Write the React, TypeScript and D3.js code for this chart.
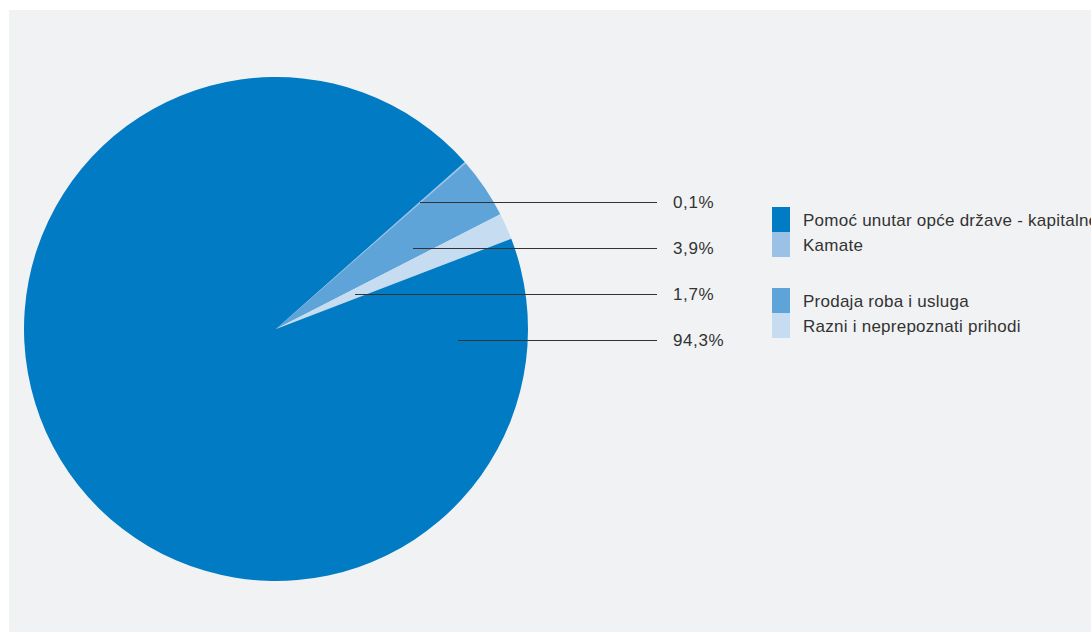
import React from "react";
import * as d3 from "d3";

const categories = [
  "Pomoć unutar opće države - kapitalne",
  "Kamate",
  "Prodaja roba i usluga",
  "Razni i neprepoznati prihodi",
];
const values = [94.3, 0.1, 3.9, 1.7];
const colors = ["#007bc4", "#9bc1e6", "#5fa4d9", "#c6dcf0"];
// order of slices clockwise and of the percentage labels
const pieOrder = [1, 2, 3, 0];
const valueLabels = ["94,3%", "0,1%", "3,9%", "1,7%"];

const W = 1091;
const H = 632;
const cx = 276;
const cy = 329;
const R = 252;
const startDeg = 48.5;
const labelTop = 202;
const labelStep = 46;
const leaderStarts = [420, 413, 355, 458];
const leaderEnd = 657;
const labelX = 673;
const legendX = 772;

export default function App() {
  const pie = d3
    .pie<number>()
    .sort(null)
    .value((i) => values[i])
    .startAngle((startDeg * Math.PI) / 180)
    .endAngle((startDeg * Math.PI) / 180 + 2 * Math.PI);
  const arcs = pie(pieOrder);
  const arc = d3.arc<d3.PieArcDatum<number>>().innerRadius(0).outerRadius(R);

  const legendRows = [0, 1, 2, 3].map((i) => ({
    i,
    y: 207 + i * 25 + (i >= 2 ? 31 : 0),
  }));

  const font = "'Liberation Sans', Arial, sans-serif";

  return (
    <svg
      width={W}
      height={H}
      style={{ position: "absolute", left: 0, top: 0 }}
      fontFamily={font}
    >
      <rect x={9} y={10} width={W - 9} height={H - 10} fill="#f1f2f4" />
      <g transform={`translate(${cx},${cy})`}>
        {arcs.map((a) => (
          <path key={a.data} d={arc(a) || ""} fill={colors[a.data]} />
        ))}
      </g>
      {pieOrder.map((ci, k) => {
        const y = labelTop + k * labelStep;
        return (
          <g key={ci}>
            <line
              x1={leaderStarts[k]}
              x2={leaderEnd}
              y1={y + 0.5}
              y2={y + 0.5}
              stroke="#333"
              strokeWidth={1}
            />
            <text
              x={labelX}
              y={y + 6.3}
              fontSize={17}
              letterSpacing={0.6}
              fill="#333"
            >
              {valueLabels[ci]}
            </text>
          </g>
        );
      })}
      {legendRows.map(({ i, y }) => (
        <g key={i}>
          <rect x={legendX} y={y} width={18} height={25} fill={colors[i]} />
          <text
            x={803}
            y={y + 19}
            fontSize={17}
            letterSpacing={0.25}
            fill="#333"
          >
            {categories[i]}
          </text>
        </g>
      ))}
    </svg>
  );
}
